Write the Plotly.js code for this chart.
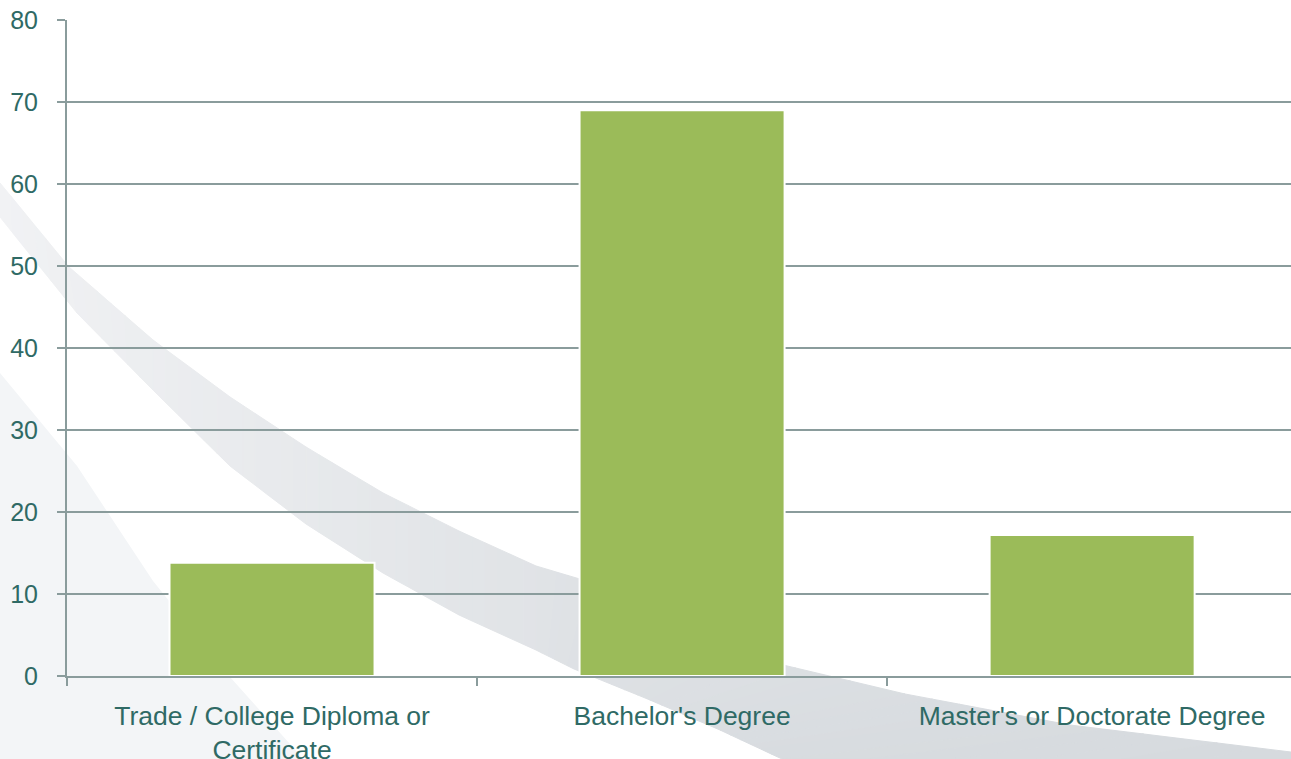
<!DOCTYPE html>
<html>
<head>
<meta charset="utf-8">
<script src="https://cdn.plot.ly/plotly-3.0.1.min.js"></script>
<style>html,body{margin:0;padding:0;background:#fff;}#chart{width:1291px;height:759px;}</style>
</head>
<body>
<div id="chart"></div>
<script>
// Data
const categories = ["Trade / College Diploma or<br>Certificate", "Bachelor's Degree", "Master's or Doctorate Degree"];
const values = [13.8, 69.0, 17.2];
const yTickValues = [0, 10, 20, 30, 40, 50, 60, 70, 80];

// Layout geometry
const W = 1291, H = 759;
const M = {l: 67, r: 0, t: 20, b: 83};
const pw = W - M.l - M.r, ph = H - M.t - M.b;
function px(x) { return (x - M.l) / pw; }
function py(y) { return (H - M.b - y) / ph; }
function pathFrom(pts) {
  return pts.map((p, i) => (i ? 'L' : 'M') + px(p[0]).toFixed(4) + ',' + py(p[1]).toFixed(4)).join(' ') + ' Z';
}
// decorative background swoosh outline (pixels)
const bandUpper = [[0,183],[69,267],[153,340],[230,397],[306,447],[383,493],[459,531],[536,566],[600,585],[741,655],[905,694],[1070,725],[1291,752]];
const bandLower = [[0,217],[77,313],[153,390],[230,466],[306,524],[383,573],[459,615],[536,650],[574,669],[650,700],[720,730],[782,759],[1291,759]];
const leftPts = [[-5,367],[77,466],[153,581],[230,677],[306,762],[-5,762]];

// split the decorative band into thin slices for a soft shading
function lerp(a, b, t) { return [a[0] + (b[0] - a[0]) * t, a[1] + (b[1] - a[1]) * t]; }
function sub(arr, steps) {
  const out = [];
  for (let i = 0; i < arr.length - 1; i++)
    for (let s = 0; s < steps; s++) out.push(lerp(arr[i], arr[i + 1], s / steps));
  out.push(arr[arr.length - 1]);
  return out;
}
const STEPS = 6;
const up = sub(bandUpper, STEPS), lo = sub(bandLower, STEPS);
const c0 = [241, 242, 244], c1 = [214, 218, 222];
function col(t) {
  const c = c0.map((v, i) => Math.round(v + (c1[i] - v) * Math.pow(t, 0.9)));
  return 'rgb(' + c.join(',') + ')';
}

const shapes = [
  {type: 'path', xref: 'paper', yref: 'paper', layer: 'below', path: pathFrom(leftPts),
   fillcolor: '#f3f5f7', line: {width: 0}}
];
const n = up.length - 1;
for (let i = 0; i < n; i++) {
  const c = col(i / (n - 1));
  shapes.push({
    type: 'path', xref: 'paper', yref: 'paper', layer: 'below',
    path: pathFrom([up[i], up[i + 1], lo[i + 1], lo[i]]),
    fillcolor: c, line: {color: c, width: 1}
  });
}

const trace = {
  type: 'bar',
  x: categories,
  y: values,
  width: 0.5,
  marker: {color: '#9bbb59', line: {color: '#ffffff', width: 2}},
  hoverinfo: 'x+y'
};

const axisColor = '#8a9c9c';
const textColor = '#2f6a65';

const layout = {
  width: W, height: H,
  margin: M,
  paper_bgcolor: '#ffffff',
  plot_bgcolor: 'rgba(0,0,0,0)',
  showlegend: false,
  font: {family: 'Liberation Sans, Arial, sans-serif', color: textColor},
  xaxis: {
    type: 'category',
    range: [-0.5, 2.485],
    tickson: 'boundaries',
    ticks: 'outside', ticklen: 8, tickwidth: 1.5, tickcolor: axisColor,
    showline: true, linecolor: axisColor, linewidth: 2,
    showgrid: false,
    tickfont: {size: 26.5, color: textColor},
    ticklabelstandoff: 15,
    fixedrange: true
  },
  yaxis: {
    range: [0, 80],
    tickvals: yTickValues,
    ticks: 'outside', ticklen: 8, tickwidth: 1.5, tickcolor: axisColor,
    showline: true, linecolor: axisColor, linewidth: 2,
    showgrid: true, gridcolor: axisColor, gridwidth: 1.5,
    zeroline: false,
    tickfont: {size: 25, color: textColor},
    ticklabelstandoff: 14,
    fixedrange: true
  },
  shapes: shapes
};

Plotly.newPlot('chart', [trace], layout, {displayModeBar: false, staticPlot: true});
</script>
</body>
</html>
